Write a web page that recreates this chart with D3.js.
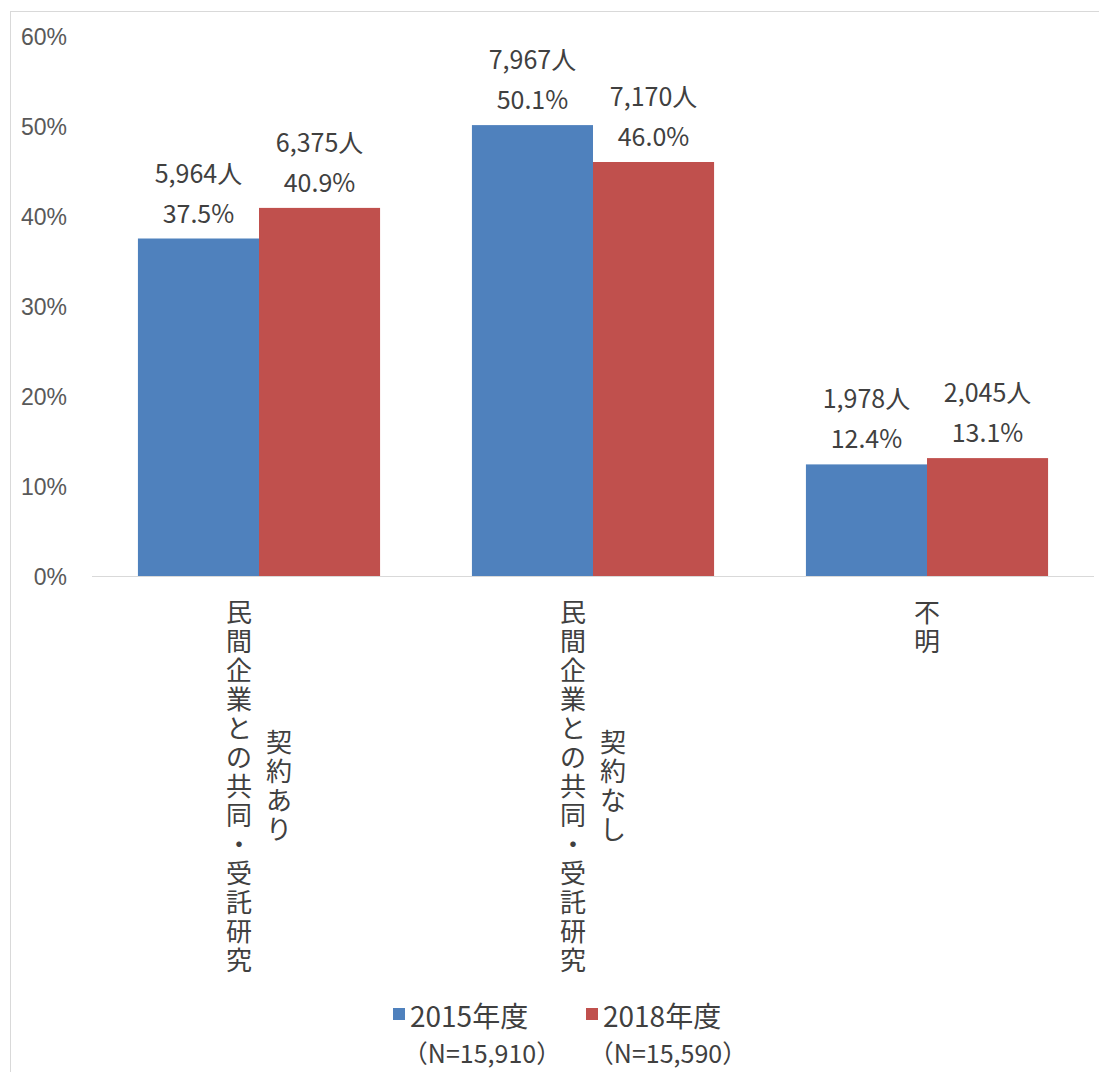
<!DOCTYPE html>
<html><head><meta charset="utf-8">
<script src="https://cdn.jsdelivr.net/npm/d3@7"></script>
<style>
html,body{margin:0;padding:0;background:#fff;}
svg{display:block;font-family:"Noto Sans CJK JP","Noto Sans",sans-serif;}
</style></head>
<body><svg id="c" width="1099" height="1072"></svg>
<script>
const categories = ["a","b","c"];
const categoryLines = [["民間企業との共同・受託研究","契約あり"],["民間企業との共同・受託研究","契約なし"],["不明"]];
const seriesNames = ["2015年度","2018年度"];
const seriesN = ["（N=15,910）","（N=15,590）"];
const pct2015 = [37.5, 50.1, 12.4];
const pct2018 = [40.9, 46.0, 13.1];
const count2015 = ["5,964人","7,967人","1,978人"];
const count2018 = ["6,375人","7,170人","2,045人"];
const yTicks = [0,10,20,30,40,50,60];
const colors = ["#4F81BD","#C0504D"];

const svg = d3.select("#c");
svg.append("rect").attr("x",10.5).attr("y",11.5).attr("width",1100).attr("height",1100)
  .attr("fill","none").attr("stroke","#d9d9d9").attr("stroke-width",1);

const y = d3.scaleLinear().domain([0,60]).range([576,36]);
const x0 = d3.scaleBand().domain(categories).range([92,1094]).paddingInner(0.275).paddingOuter(0.1375);
const x1 = d3.scaleBand().domain([0,1]).range([0,x0.bandwidth()]);

// y axis labels
const yAxis = d3.axisLeft(y).tickValues(yTicks).tickFormat(d=>d+"%").tickSize(0).tickPadding(0);
const ga = svg.append("g").attr("transform","translate(67,0)").call(yAxis);
ga.select(".domain").remove();
ga.selectAll("text").attr("font-size",23).attr("fill","#595959").attr("font-family",null).attr("dy","0.36em");

// baseline
svg.append("line").attr("x1",92).attr("x2",1094).attr("y1",y(0)+0.5).attr("y2",y(0)+0.5)
  .attr("stroke","#d9d9d9").attr("stroke-width",1);

const data = categories.map((c,i)=>({c, vals:[
  {s:0,v:pct2015[i],n:count2015[i]},{s:1,v:pct2018[i],n:count2018[i]}]}));

const g = svg.selectAll("g.cat").data(data).join("g").attr("class","cat")
  .attr("transform",d=>`translate(${x0(d.c)},0)`);
g.selectAll("rect").data(d=>d.vals).join("rect")
  .attr("x",d=>x1(d.s)).attr("width",x1.bandwidth())
  .attr("y",d=>y(d.v)).attr("height",d=>y(0)-y(d.v)).attr("fill",d=>colors[d.s]);
g.selectAll("text.pct").data(d=>d.vals).join("text").attr("class","pct")
  .attr("x",d=>x1(d.s)+x1.bandwidth()/2).attr("y",d=>y(d.v)-16)
  .attr("text-anchor","middle").attr("font-size",25).attr("fill","#404040")
  .text(d=>d.v.toFixed(1)+"%");
g.selectAll("text.cnt").data(d=>d.vals).join("text").attr("class","cnt")
  .attr("x",d=>x1(d.s)+x1.bandwidth()/2).attr("y",d=>y(d.v)-56)
  .attr("text-anchor","middle").attr("font-size",25).attr("fill","#404040")
  .text(d=>d.n);

// vertical category labels (one glyph per text, stacked)
const charStep = 29, colGap = 40, topY = 598, fs = 26;
categories.forEach((c,i)=>{
  const lines = categoryLines[i];
  const cx = x0(c)+x0.bandwidth()/2;
  const maxLen = d3.max(lines,l=>Array.from(l).length);
  lines.forEach((line,j)=>{
    const chars = Array.from(line);
    const colX = cx + (j-(lines.length-1)/2)*colGap;
    const off = (maxLen-chars.length)*charStep/2;
    chars.forEach((ch,k)=>{
      svg.append("text").attr("x",colX).attr("y",topY+off+k*charStep+charStep/2)
        .attr("dy","0.36em").attr("text-anchor","middle").attr("font-size",fs)
        .attr("fill","#404040").text(ch);
    });
  });
});

// legend
const legX = [393,586];
const legNX = [482,668];
seriesNames.forEach((s,i)=>{
  svg.append("rect").attr("x",legX[i]).attr("y",1008).attr("width",12).attr("height",12).attr("fill",colors[i]);
  svg.append("text").attr("x",legX[i]+17).attr("y",1017).attr("dy","0.36em").attr("font-size",28)
    .attr("fill","#404040").text(s);
  svg.append("text").attr("x",legNX[i]).attr("y",1054).attr("dy","0.36em").attr("font-size",25)
    .attr("text-anchor","middle").attr("fill","#404040").text(seriesN[i]);
});
</script></body></html>
